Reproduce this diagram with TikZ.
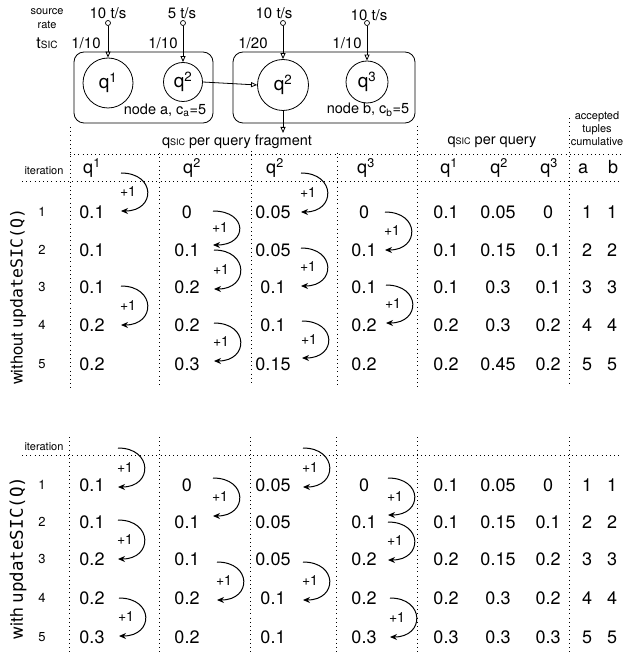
\documentclass[tikz,border=0pt]{standalone}
\usepackage{fontspec}
\setmainfont{TeX Gyre Heros}
\setmonofont{DejaVu Sans Mono}
\usetikzlibrary{arrows.meta}
\newcommand\fs[1]{\fontsize{#1}{#1}\selectfont}
\newcommand\sic{{\fs{9}SIC}}
\newcommand\incarrow[4]{%
  \coordinate (#4s) at (#1,#2);
  \coordinate (#4e) at (#1,#3);
  \draw[incarr] (#4s) .. controls +(35,0) and +(35,0) .. (#4e);
  \node[plus] (#4l) at ({#1+7},{(#2+#3)/2}) {+1};
}
\begin{document}
\begin{tikzpicture}[x=1pt,y=-1pt,
  val/.style={font=\fs{18}, inner sep=0pt},
  hdr/.style={font=\fs{18}, inner sep=0pt, anchor=base},
  itn/.style={font=\fs{13}, inner sep=0pt},
  lbl/.style={font=\fs{14.5}, inner sep=0pt},
  tiny/.style={font=\fs{11}, inner sep=0pt},
  plus/.style={font=\fs{14}, inner sep=0pt},
  grid/.style={line width=1pt, dash pattern=on 1pt off 3.2pt},
  incarr/.style={line width=1pt, -{Stealth[length=7pt,width=6pt]}},
  rate/.style={line width=0.8pt, -{Triangle[open,length=6pt,width=5pt]}},
  qc/.style={circle, draw, line width=0.8pt, font=\fs{19}, inner sep=0pt},
  src/.style={circle, draw, line width=0.7pt, inner sep=0pt, minimum size=5pt},
  box/.style={draw, rounded corners=10pt, line width=0.8pt},
]
\useasboundingbox (0,0) rectangle (626,652);

% ---------- top part ----------
\node[tiny] (srcl) at (47,12) {source};
\node[tiny] (ratel) at (47,25) {rate};
\node[inner sep=0pt, font=\fs{16}] (tsic) at (47,43) {t{\fs{10}SIC}};

\node[box, minimum width=139pt, minimum height=71pt] (boxa) at (143.5,87.5) {};
\node[box, minimum width=182pt, minimum height=71pt] (boxb) at (324,87.5) {};

\node[qc, minimum size=50pt] (q1) at (108,83) {q\textsuperscript{1}};
\node[qc, minimum size=39pt] (q2a) at (183,82) {q\textsuperscript{2}};
\node[qc, minimum size=51pt] (q2b) at (283,85) {q\textsuperscript{2}};
\node[qc, minimum size=42pt] (q3) at (367,82) {q\textsuperscript{3}};

\node[lbl] (nla) at (165,110) {node a, c\textsubscript{a}=5};
\node[lbl] (nlb) at (368,110) {node b, c\textsubscript{b}=5};

\node[lbl, font=\fs{15}] (r1) at (108,13) {10 t/s};
\node[lbl, font=\fs{15}] (r2) at (182,13) {5 t/s};
\node[lbl, font=\fs{15}] (r3) at (274,13) {10 t/s};
\node[lbl, font=\fs{15}] (r4) at (369,15) {10 t/s};

\node[src] (s1) at (108,23) {};
\node[src] (s2) at (183,23) {};
\node[src] (s3) at (283,23) {};
\node[src] (s4) at (367,23) {};

\node[lbl, font=\fs{15}] (t1) at (86,43) {1/10};
\node[lbl, font=\fs{15}] (t2) at (163,43) {1/10};
\node[lbl, font=\fs{15}] (t3) at (253,43) {1/20};
\node[lbl, font=\fs{15}] (t4) at (347,43) {1/10};

\draw[rate] (s1) -- (q1);
\draw[rate] (s2) -- (q2a);
\draw[rate] (s3) -- (q2b);
\draw[rate] (s4) -- (q3);
\draw[rate] (q2a.east) -- (q2b.west);
\coordinate (fragout) at (283,133);
\draw[rate] (q2b.south) -- (fragout);

\node[lbl] (fragl) at (237,142) {q\sic{} per query fragment};
\node[lbl] (queryl) at (492,142) {q\sic{} per query};
\node[tiny] (acc1) at (597,117) {accepted};
\node[tiny] (acc2) at (597,130) {tuples};
\node[tiny] (acc3) at (597,142) {cumulative};

% ---------- grid lines ----------
\draw[grid] (70,127) -- (70,388);
\draw[grid] (159,153) -- (159,388);
\draw[grid] (251,151) -- (251,386);
\draw[grid] (337,153) -- (337,388);
\draw[grid] (417,126) -- (417,388);
\draw[grid] (569,118) -- (569,386);
\draw[grid] (70,155) -- (622,155);
\draw[grid] (22,182) -- (622,182);

\foreach \x in {69,159,250,336,417,569} \draw[grid] (\x,437) -- (\x,652);
\draw[grid] (22,455) -- (622,455);

% ---------- headers ----------
\node[tiny] (it1) at (44,171) {iteration};
\node[tiny] (it2) at (44,447) {iteration};
\node[hdr] (h1) at (92,174) {q\textsuperscript{1}};
\node[hdr] (h2) at (192,174) {q\textsuperscript{2}};
\node[hdr] (h3) at (275,174) {q\textsuperscript{2}};
\node[hdr] (h4) at (366,174) {q\textsuperscript{3}};
\node[hdr] (h5) at (449,174) {q\textsuperscript{1}};
\node[hdr] (h6) at (499,174) {q\textsuperscript{2}};
\node[hdr] (h7) at (549,174) {q\textsuperscript{3}};
\node[hdr] (h8) at (583,174) {a};
\node[hdr] (h9) at (613,174) {b};

\node[rotate=90, font=\fs{16.5}, inner sep=0pt] (lab1) at (18,297) {without \texttt{updateSIC(Q)}};
\node[rotate=90, font=\fs{17.5}, inner sep=0pt] (lab2) at (18,558) {with \texttt{updateSIC(Q)}};

% ---------- values ----------
\def\colx{{92,187,273,364,446,498,548,587,612}}
\def\rowya{{212,250,287,325,364}}
\def\rowyb{{485,522,559,598,637}}
\foreach \row [count=\r] in {{0.1,0,0.05,0,0.1,0.05,0,1,1},{0.1,0.1,0.05,0.1,0.1,0.15,0.1,2,2},{0.1,0.2,0.1,0.1,0.1,0.3,0.1,3,3},{0.2,0.2,0.1,0.2,0.2,0.3,0.2,4,4},{0.2,0.3,0.15,0.2,0.2,0.45,0.2,5,5}}{
  \pgfmathsetmacro\yy{\rowya[\r-1]}
  \node[itn] (a-\r-0) at (42,\yy) {\r};
  \foreach \v [count=\c] in \row {
    \pgfmathsetmacro\xx{\colx[\c-1]}
    \node[val] (a-\r-\c) at (\xx,\yy) {\v};
  }
}
\foreach \row [count=\r] in {{0.1,0,0.05,0,0.1,0.05,0,1,1},{0.1,0.1,0.05,0.1,0.1,0.15,0.1,2,2},{0.2,0.1,0.05,0.2,0.2,0.15,0.2,3,3},{0.2,0.2,0.1,0.2,0.2,0.3,0.2,4,4},{0.3,0.2,0.1,0.3,0.3,0.3,0.3,5,5}}{
  \pgfmathsetmacro\yy{\rowyb[\r-1]}
  \node[itn] (b-\r-0) at (42,\yy) {\r};
  \foreach \v [count=\c] in \row {
    \pgfmathsetmacro\xx{\colx[\c-1]}
    \node[val] (b-\r-\c) at (\xx,\yy) {\v};
  }
}

% ---------- +1 arrows, table 1 ----------
\incarrow{121}{173}{211}{pa1}
\incarrow{121}{286}{325}{pa2}
\incarrow{213}{211}{245}{pa3}
\incarrow{214}{250}{289}{pa4}
\incarrow{214}{323}{361}{pa5}
\incarrow{301}{173}{212}{pa6}
\incarrow{301}{248}{286}{pa7}
\incarrow{302}{321}{358}{pa8}
\incarrow{385}{212}{250}{pa9}
\incarrow{386}{285}{323}{pa10}
% ---------- +1 arrows, table 2 ----------
\incarrow{118}{448}{487}{pb1}
\incarrow{118}{520}{559}{pb2}
\incarrow{119}{598}{636}{pb3}
\incarrow{213}{478}{516}{pb4}
\incarrow{217}{562}{600}{pb5}
\incarrow{303}{448}{487}{pb6}
\incarrow{303}{562}{600}{pb7}
\incarrow{388}{478}{515}{pb8}
\incarrow{388}{522}{560}{pb9}
\incarrow{390}{598}{637}{pb10}
\end{tikzpicture}
\end{document}
